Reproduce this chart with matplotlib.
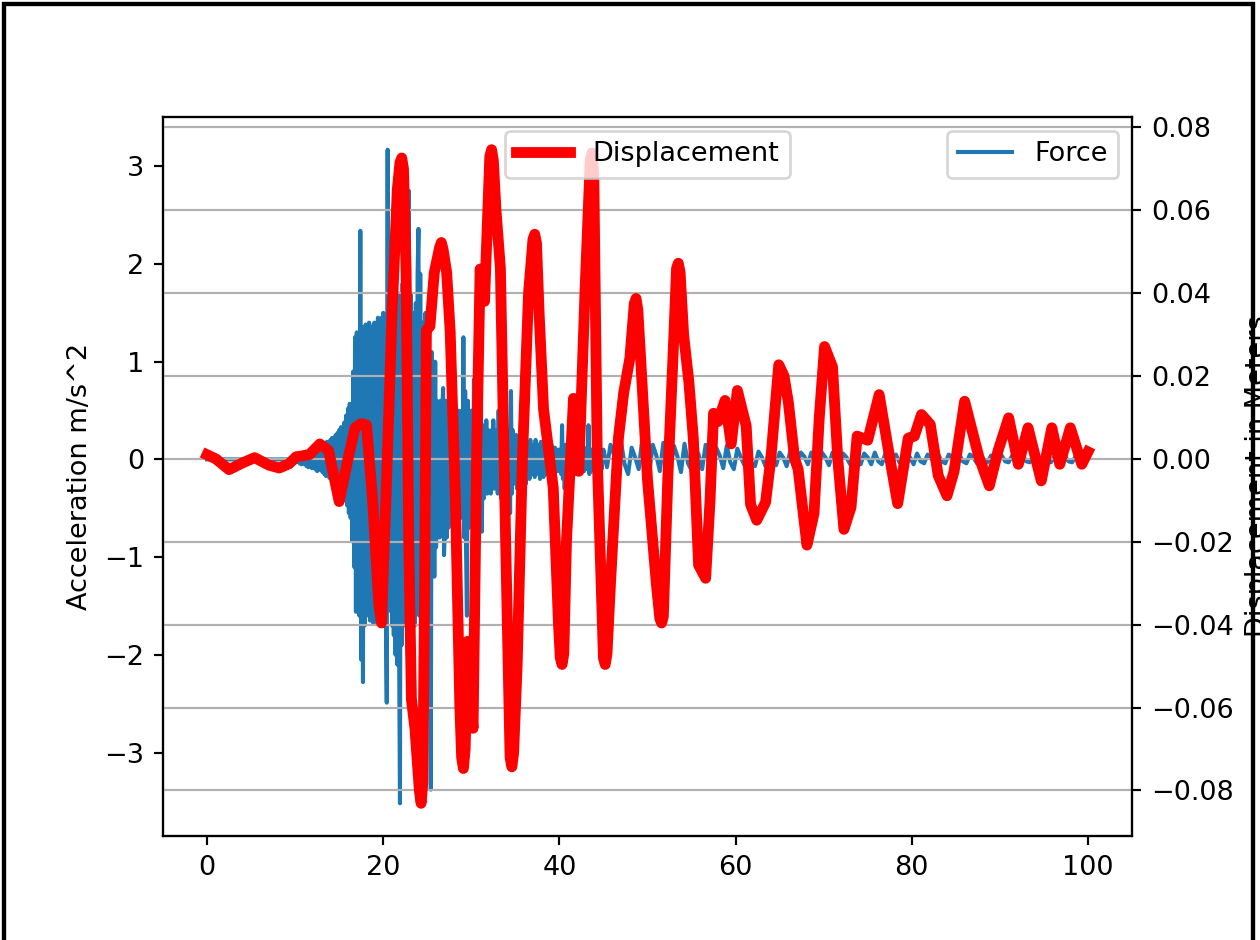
import numpy as np
import matplotlib
matplotlib.use("Agg")
import matplotlib.pyplot as plt
from matplotlib.patches import Rectangle

# ---- ground acceleration record (m/s^2) ----
# quiet lead-in
quiet_t = [0.0, 9.9]
quiet_acc = [0.0, 0.0]

# strong-motion part, sampled every 0.1 s from t = 10 s
strong_start, strong_step = 10.0, 0.1
strong_acc = [
    0.02, -0.03, 0.04, -0.02, 0.05, -0.04, 0.03, -0.05, 0.06, -0.04,
    0.07, -0.05, 0.08, -0.07, 0.06, -0.08, 0.09, -0.06, 0.08, -0.09,
    0.10, -0.08, 0.11, -0.10, 0.09, -0.12, 0.12, -0.10, 0.13, -0.11,
    0.14, -0.13, 0.16, -0.15, 0.13, -0.17, 0.18, -0.14, 0.17, -0.19,
    0.20, -0.18, 0.22, -0.21, 0.19, -0.24, 0.25, -0.22, 0.27, -0.26,
    0.30, -0.28, 0.33, -0.35, 0.31, -0.40, 0.38, -0.42, 0.45, -0.47,
    0.52, -0.55, 0.57, -0.60, 0.48, -0.84, 0.90, -1.10, 1.25, -1.56,
    1.30, -1.45, 1.20, -1.60, 2.34, -2.05, 1.35, -2.28, 1.30, -1.70,
    1.38, -1.60, 1.35, -1.50, 1.40, -1.65, 1.36, -1.55, 1.30, -1.68,
    1.40, -1.60, 1.33, -1.62, 1.45, -1.50, 1.42, -1.66, 1.45, -1.58,
    1.50, -1.60, 1.45, -1.62, -2.49, 3.17, -1.55, 2.00, -1.50, 1.90,
    -1.70, 2.20, -1.80, 1.60, -2.00, 1.50, -2.10, 1.70, -1.90, -3.52,
    1.60, -1.90, 1.80, -1.60, 2.30, -1.70, 1.60, -1.50, -2.00, 2.75,
    -1.80, 1.70, -2.00, 1.50, -1.60, 1.40, -1.70, 1.60, -1.50, 1.90,
    2.36, -1.60, 1.90, -1.70, 1.40, -1.20, 1.30, -1.50, 1.50, -1.10,
    1.20, -1.30, 1.00, -1.50, -3.38, 1.10, -1.00, 0.90, -1.20, 1.00,
    -0.90, 0.60, -0.70, 0.50, -0.80, 0.60, -0.70, 0.50, 0.73, -0.98,
    -0.70, 0.60, -0.80, 0.55, -0.70, 0.50, -0.60, 0.45, -0.65, 0.50,
    -0.70, 0.60, -0.50, 0.40, -0.60, 0.50, -0.40, 0.45, -0.55, 0.50,
    -0.60, 1.25, -0.80, 0.70, -0.90, -1.60, 0.60, -0.70, 0.50, -0.60,
    0.40, 0.50, -0.50, 0.82, -0.70, 0.40, -0.50, 0.50, -0.60, 0.40,
    -0.40, 0.60, -0.74, 0.30, -0.40, 0.35, -0.30, 0.40, -0.35, 0.30,
    -0.30, 0.25, -0.35, 0.30, -0.25, 0.40, -0.30, 0.25, -0.20, 0.30,
    -0.35, 0.50, -0.30, 0.30, -0.40, 0.25, -0.30, 0.35, -0.25, 0.20,
    -0.30, 0.25, -0.20, 0.30, -0.55, 0.70, -0.35, 0.30, -0.25, 0.20,
    -0.20, 0.25, -0.30, 0.20, -0.15, 0.18, -0.20, 0.15, -0.18, 0.22,
    -0.15, 0.20, -0.25, 0.18, -0.15, 0.15, -0.20, 0.20, -0.15, 0.12,
    -0.12, 0.15, -0.18, 0.20, -0.15, 0.12, -0.10, 0.15, -0.20, 0.18,
    -0.15, 0.12, -0.18, 0.15, -0.12, 0.10, -0.15, 0.18, -0.12, 0.10,
    -0.10, 0.15, -0.12, 0.10, -0.15, 0.12, -0.10, 0.08, -0.12, 0.10,
    -0.12, 0.10, -0.15, 0.35, -0.20, 0.12, -0.30, 0.15, -0.10, 0.12,
    -0.10, 0.12, -0.15, 0.10, -0.12, 0.15, -0.10, 0.12, -0.15, 0.10,
    -0.10, 0.08, -0.12, 0.10, -0.08, 0.12, -0.10, 0.08, -0.12, 0.10,
    -0.08, 0.12, -0.10, 0.35, -0.15, 0.10, -0.12, 0.08, -0.10, 0.12,
    -0.10, 0.08, -0.30, 0.10, -0.08, 0.10, -0.12, 0.08, -0.10, 0.06,
]

# decaying coda, sampled every 0.4 s from t = 45 s
coda_start, coda_step = 45.0, 0.4
coda_acc = [
    0.10, -0.08, 0.15, 0.05, -0.12, 0.18, -0.05, -0.15, 0.12, 0.02,
    -0.10, 0.20, -0.06, -0.14, 0.15, 0.04, -0.12, 0.17, -0.08, -0.10,
    0.14, 0.03, -0.13, 0.16, -0.04, -0.11, 0.13, 0.05, -0.10, 0.15,
    -0.06, -0.12, 0.12, 0.04, -0.09, 0.14, -0.03, -0.10, 0.11, 0.02,
    -0.06, 0.09, -0.04, -0.07, 0.08, 0.02, -0.07, 0.09, -0.03, -0.06,
    0.07, 0.02, -0.07, 0.08, -0.02, -0.06, 0.07, 0.03, -0.05, 0.07,
    -0.04, -0.06, 0.07, 0.02, -0.06, 0.07, -0.02, -0.05, 0.06, 0.02,
    -0.05, 0.07, -0.03, -0.05, 0.06, 0.02, -0.05, 0.07, -0.02, -0.05,
    0.06, 0.02, -0.05, 0.05, -0.03, -0.04, 0.05, 0.02, -0.05, 0.06,
    -0.02, -0.04, 0.05, 0.02, -0.05, 0.05, -0.02, -0.04, 0.05, 0.02,
    -0.04, 0.05, -0.02, -0.04, 0.05, 0.02, -0.04, 0.05, -0.02, -0.03,
    0.04, 0.02, -0.03, 0.04, -0.02, -0.03, 0.04, 0.01, -0.03, 0.04,
    -0.02, -0.03, 0.04, 0.02, -0.03, 0.03, -0.02, -0.03, 0.03, 0.01,
    -0.03, 0.03, -0.02, -0.03, 0.03, 0.01, -0.03, 0.02,
]

# ---- structural displacement response (m) ----
disp_t = [
    0.0, 1.0, 2.5, 4.0, 5.4, 7.0, 8.2, 9.3, 10.1, 11.6,
    12.8, 13.8, 15.0, 16.0, 16.8, 17.5, 18.1, 18.8, 19.5, 19.8,
    20.3, 21.0, 21.6, 21.9, 22.1, 22.3, 22.6, 22.9, 23.2, 23.6,
    24.1, 24.3, 24.5, 24.7, 24.9, 25.3, 25.8, 26.4, 26.6, 26.8,
    27.2, 27.6, 28.2, 28.7, 28.9, 29.1, 29.3, 29.6, 30.0, 30.2,
    30.6, 31.0, 31.5, 32.1, 32.3, 32.5, 32.8, 33.3, 33.9, 34.4,
    34.6, 34.8, 35.2, 35.8, 36.5, 37.0, 37.2, 37.4, 37.7, 38.2,
    39.3, 39.9, 40.1, 40.3, 40.5, 40.8, 41.6, 42.2, 42.9, 43.5,
    43.7, 43.9, 44.3, 45.0, 45.2, 45.4, 45.8, 46.7, 47.3, 48.0,
    48.5, 48.7, 48.9, 49.2, 50.0, 51.0, 51.4, 51.6, 51.8, 52.3,
    53.0, 53.3, 53.5, 53.7, 54.1, 54.7, 55.2, 55.8, 56.6, 57.1,
    57.5, 58.0, 58.8, 59.5, 60.2, 61.2, 61.7, 62.4, 63.4, 64.0,
    64.9, 65.5, 66.0, 66.7, 67.1, 68.1, 68.9, 69.5, 70.1, 71.0,
    71.6, 72.3, 73.1, 73.8, 75.0, 76.3, 77.4, 78.4, 79.6, 80.3,
    81.1, 82.1, 83.0, 84.0, 84.8, 86.0, 87.6, 88.8, 89.8, 91.0,
    92.1, 93.2, 94.7, 95.9, 96.8, 98.0, 99.3, 100.0,
]
disp_m = [
    0.0010, 0.0000, -0.0026, -0.0010, 0.0003, -0.0015, -0.0022, -0.0012, 0.0005, 0.0010,
    0.0036, 0.0020, -0.0103, 0.0000, 0.0075, 0.0085, 0.0082, -0.0100, -0.0350, -0.0396,
    -0.0100, 0.0350, 0.0650, 0.0715, 0.0726, 0.0700, 0.0450, -0.0200, -0.0580, -0.0650,
    -0.0800, -0.0831, -0.0780, -0.0300, 0.0310, 0.0320, 0.0450, 0.0510, 0.0522, 0.0505,
    0.0450, 0.0307, -0.0100, -0.0600, -0.0720, -0.0747, -0.0700, -0.0440, -0.0600, -0.0650,
    0.0000, 0.0458, 0.0380, 0.0730, 0.0746, 0.0720, 0.0600, 0.0460, -0.0200, -0.0720,
    -0.0743, -0.0710, -0.0500, 0.0000, 0.0400, 0.0530, 0.0542, 0.0520, 0.0350, 0.0120,
    -0.0070, -0.0400, -0.0480, -0.0496, -0.0470, -0.0200, 0.0146, -0.0030, 0.0400, 0.0720,
    0.0738, 0.0690, 0.0000, -0.0480, -0.0496, -0.0470, -0.0300, 0.0050, 0.0160, 0.0243,
    0.0375, 0.0387, 0.0360, 0.0250, -0.0050, -0.0300, -0.0385, -0.0396, -0.0380, -0.0050,
    0.0300, 0.0460, 0.0472, 0.0450, 0.0300, 0.0185, 0.0050, -0.0256, -0.0288, -0.0100,
    0.0110, 0.0090, 0.0141, 0.0036, 0.0165, 0.0080, -0.0110, -0.0148, -0.0105, 0.0000,
    0.0227, 0.0200, 0.0135, 0.0000, -0.0025, -0.0208, -0.0132, 0.0100, 0.0271, 0.0222,
    0.0000, -0.0170, -0.0117, 0.0055, 0.0045, 0.0155, 0.0015, -0.0108, 0.0050, 0.0055,
    0.0107, 0.0083, -0.0040, -0.0089, -0.0030, 0.0139, 0.0006, -0.0065, 0.0020, 0.0099,
    -0.0013, 0.0075, -0.0053, 0.0075, -0.0013, 0.0075, -0.0013, 0.0017,
]

# assemble the acceleration time axis from the sampling blocks
strong_t = strong_start + strong_step * np.arange(len(strong_acc))
coda_t = coda_start + coda_step * np.arange(len(coda_acc))
force_t = np.concatenate([quiet_t, strong_t, coda_t])
force_acc = np.concatenate([quiet_acc, strong_acc, coda_acc])

W, H, DPI = 1260, 940, 195
fig = plt.figure(figsize=(W / DPI, H / DPI), dpi=DPI)
ax = fig.add_axes([163 / W, 1 - 836 / H, (1132 - 163) / W, (836 - 117) / H])

ax.plot(force_t, force_acc, color="#1f77b4", lw=1.5, label="Force")
ax.set_ylabel("Acceleration m/s^2")
ax.set_xticks([0, 20, 40, 60, 80, 100])
ax.legend(loc="upper right")

ax2 = ax.twinx()
ax2.plot(disp_t, disp_m, color="red", lw=4, label="Displacement")
ax2.set_ylabel("Displacement in Meters")
ax2.set_yticks([-0.08, -0.06, -0.04, -0.02, 0.0, 0.02, 0.04, 0.06, 0.08])
ax2.grid(axis="y")
ax2.legend(loc="upper center")

# black frame around the figure
fig.patches.append(Rectangle((3.5 / W, -0.05), (1253 - 3.5) / W, 1.05 - 3.5 / H,
                             transform=fig.transFigure, fill=False,
                             edgecolor="black", lw=1.6, zorder=10))

fig.savefig("out.png", dpi=DPI)
